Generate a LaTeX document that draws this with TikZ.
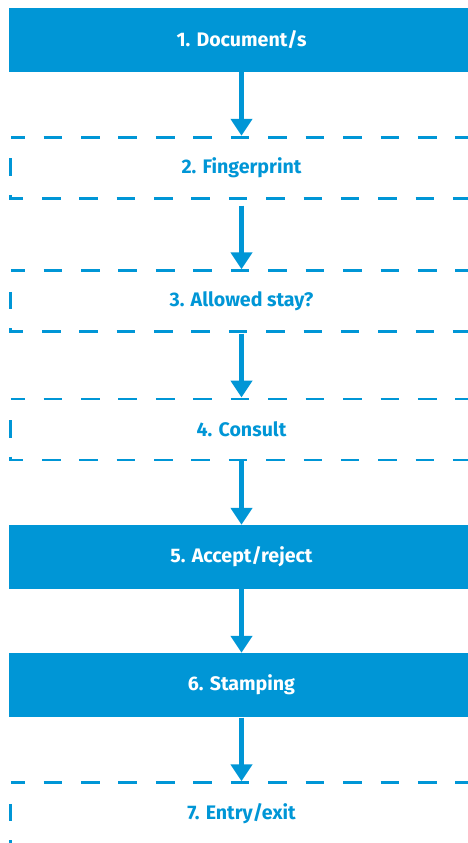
\documentclass[tikz,border=0pt]{standalone}
\usepackage{fontspec}
\setmainfont{Fira Sans}
\usetikzlibrary{arrows.meta}
\definecolor{flowblue}{RGB}{0,150,214}
\tikzset{
  labelfont/.style={font=\fontsize{19.6}{22}\selectfont\bfseries},
  solidbox/.style={fill=flowblue, draw=none, minimum width=465pt, minimum height=64pt,
    inner sep=0pt, text=white, labelfont},
  dashbox/.style={draw=none, minimum width=461pt, minimum height=60.5pt,
    inner sep=0pt, text=flowblue, labelfont},
  frameline/.style={draw=flowblue, line width=2.8pt},
  topdash/.style={frameline, dash pattern=on 18.6pt off 18.83pt, dash phase=4.6pt},
  sidedash/.style={frameline, dash pattern=on 17.5pt off 19pt on 40pt off 21pt, dash phase=76.5pt},
  bottomdash/.style={frameline, dash pattern=on 18.6pt off 18.76pt},
  flowarrow/.style={draw=flowblue, line width=4.5pt, -{Triangle[width=21pt,length=17pt]}},
}
\begin{document}
\begin{tikzpicture}[x=1pt, y=-1pt]
  \useasboundingbox (0,0) rectangle (468,843);
  \clip (0,0) rectangle (468,843);

  % process steps
  \node[solidbox] (b1) at (241.5,40)     {1. Document/s};
  \node[dashbox]  (b2) at (241.5,167.75) {2. Fingerprint};
  \node[dashbox]  (b3) at (241.5,301.25) {3. Allowed stay?};
  \node[dashbox]  (b4) at (241.5,429.5)  {4. Consult};
  \node[solidbox] (b5) at (241.5,557)    {5. Accept/reject};
  \node[solidbox] (b6) at (241.5,685)    {6. Stamping};
  \node[dashbox]  (b7) at (241.5,813.25) {7. Entry/exit};

  % dashed outlines of the optional steps
  \foreach \n in {b2,b3,b4} {
    \draw[topdash] (\n.north west) -- (\n.north east);
    \draw[sidedash] (\n.north west) -- (\n.south west) -- ([xshift=12.4pt]\n.south west);
    \draw[bottomdash] ([xshift=31.2pt]\n.south west) -- (\n.south east);
  }
  % the last step runs off the bottom edge
  \draw[topdash] (b7.north west) -- (b7.north east);
  \draw[sidedash] (b7.north west) -- ([yshift=-8pt]b7.south west);

  % connectors
  \draw[flowarrow, shorten >=1.5pt] (b1.south) -- (b2.north);
  \draw[flowarrow, shorten <=7.5pt, shorten >=1.5pt] (b2.south) -- (b3.north);
  \draw[flowarrow, shorten <=2pt, shorten >=1.5pt] (b3.south) -- (b4.north);
  \draw[flowarrow, shorten <=1pt] (b4.south) -- (b5.north);
  \draw[flowarrow] (b5.south) -- (b6.north);
  \draw[flowarrow, shorten <=0.5pt, shorten >=1.5pt] (b6.south) -- (b7.north);
\end{tikzpicture}
\end{document}
